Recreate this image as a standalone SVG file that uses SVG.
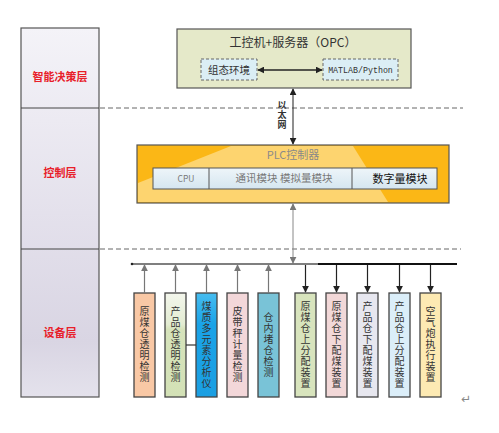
<svg xmlns="http://www.w3.org/2000/svg" width="499" height="433" viewBox="0 0 499 433">
<defs>
<linearGradient id="colg" x1="0" y1="0" x2="0" y2="1">
<stop offset="0" stop-color="#f4f3f8"/><stop offset="0.5" stop-color="#e4e1ec"/><stop offset="0.85" stop-color="#d9d5e3"/><stop offset="1" stop-color="#e4e2ec"/>
</linearGradient>
<linearGradient id="rowg" x1="0" y1="0" x2="0" y2="1">
<stop offset="0" stop-color="#eef5f9"/><stop offset="1" stop-color="#d5e6f0"/>
</linearGradient>
<linearGradient id="g2" x1="0" y1="0" x2="0" y2="1">
<stop offset="0" stop-color="#f3f6ec"/><stop offset="0.3" stop-color="#e3ecd2"/><stop offset="0.35" stop-color="#d6e3bb"/><stop offset="1" stop-color="#d3e1b6"/>
</linearGradient>
<linearGradient id="g3" x1="0" y1="0" x2="0" y2="1">
<stop offset="0" stop-color="#47bdf0"/><stop offset="0.3" stop-color="#1aa3e8"/><stop offset="1" stop-color="#1b9fe2"/>
</linearGradient>
<marker id="ab" viewBox="0 0 10 10" refX="9" refY="5" markerWidth="7" markerHeight="7" orient="auto-start-reverse" markerUnits="userSpaceOnUse">
<path d="M0,0 L10,5 L0,10 z" fill="#222"/>
</marker>
<marker id="ag" viewBox="0 0 10 10" refX="9" refY="5" markerWidth="7" markerHeight="7" orient="auto-start-reverse" markerUnits="userSpaceOnUse">
<path d="M0,0 L10,5 L0,10 z" fill="#777"/>
</marker>
</defs>
<style>
.lay{font-family:"Noto Sans CJK SC","Liberation Sans",sans-serif;font-size:11px;font-weight:bold;fill:#e8202a;text-anchor:middle}
.t{font-family:"Noto Sans CJK SC","Liberation Sans",sans-serif;fill:#333;text-anchor:middle}
.dev rect{stroke:#444;stroke-width:1.3}
.v{font-family:"Noto Sans CJK SC",sans-serif;font-size:10px;fill:#333;writing-mode:vertical-rl;text-anchor:middle;letter-spacing:1px}
.dash{stroke:#666;stroke-width:1;stroke-dasharray:5,3;fill:none}
.up{stroke:#777;stroke-width:1.2;fill:none;marker-end:url(#ag)}
.down{stroke:#222;stroke-width:1.2;fill:none;marker-end:url(#ab)}
.eth{font-family:"Noto Sans CJK SC",sans-serif;font-size:9px;font-weight:bold;fill:#333;text-anchor:middle;writing-mode:vertical-rl;letter-spacing:1px}
</style>

<g id="layers">
<rect x="21" y="28" width="78" height="369" fill="url(#colg)" stroke="#555" stroke-width="1.2"/>
<line x1="21" y1="108" x2="99" y2="108" stroke="#444" stroke-width="1"/>
<line x1="21" y1="249" x2="99" y2="249" stroke="#444" stroke-width="1"/>
<text class="lay" x="60" y="81">智能决策层</text>
<text class="lay" x="60" y="177">控制层</text>
<text class="lay" x="60" y="337">设备层</text>
</g>

<g id="separators">
<line class="dash" x1="100" y1="108" x2="463" y2="108"/>
<line class="dash" x1="100" y1="249" x2="461" y2="249"/>
</g>

<g id="ipc">
<rect x="177" y="29" width="234" height="59" fill="#e5e9c9" stroke="#555" stroke-width="1.2"/>
<text class="t" x="293" y="47" font-size="12">工控机+服务器（OPC）</text>
</g>
<g id="config-env">
<rect x="201" y="59" width="56" height="21" fill="#dbeef5" stroke="#666" stroke-width="1" stroke-dasharray="3,2"/>
<text class="t" x="229" y="74" font-size="10.5">组态环境</text>
</g>
<g id="matlab">
<rect x="323" y="59" width="75" height="21" fill="#dbeef5" stroke="#666" stroke-width="1" stroke-dasharray="3,2"/>
<text x="360.5" y="73" font-family="Liberation Mono,monospace" font-size="8.3" fill="#333" text-anchor="middle">MATLAB/Python</text>
</g>

<g id="plc">
<rect x="137" y="145" width="312" height="58" fill="#fbb716" stroke="#555" stroke-width="1.2"/>
<polygon points="231,146 353,146 388,202 138,202 138,183" fill="#fdd46f"/>
<text x="293" y="159" font-family="Noto Sans CJK SC,Liberation Sans,sans-serif" font-size="11" fill="#8a8a8a" text-anchor="middle">PLC控制器</text>
<rect x="153" y="168" width="284" height="21" fill="url(#rowg)" stroke="#555" stroke-width="1"/>
<line x1="209" y1="168" x2="209" y2="189" stroke="#555" stroke-width="1"/>
<line x1="352" y1="168" x2="352" y2="189" stroke="#555" stroke-width="1"/>
<text class="t" x="186" y="182" font-size="8.5" style="fill:#777">CPU</text>
<text class="t" x="284" y="182" font-size="10.5" style="fill:#777">通讯模块 模拟量模块</text>
<text class="t" x="400" y="182.5" font-size="11" style="fill:#111">数字量模块</text>
</g>

<g id="d1" class="dev"><rect x="134" y="293" width="21" height="104" fill="#f9c8a5"/><text class="v" x="144.5" y="345">原煤仓透明检测</text></g>
<g id="d2" class="dev"><rect x="165" y="293" width="21" height="104" fill="url(#g2)"/><text class="v" x="175.5" y="345">产品仓透明检测</text></g>
<g id="d3" class="dev"><rect x="196" y="293" width="21" height="104" fill="url(#g3)"/><text class="v" x="206.5" y="345">煤质多元素分析仪</text></g>
<g id="d4" class="dev"><rect x="227" y="293" width="21" height="104" fill="#f3d7d9"/><text class="v" x="237.5" y="345">皮带秤计量检测</text></g>
<g id="d5" class="dev"><rect x="258" y="293" width="21" height="104" fill="#79c3d7"/><text class="v" x="268.5" y="345">仓内堵仓检测</text></g>
<g id="d6" class="dev"><rect x="295" y="293" width="21" height="104" fill="#d8e4bd"/><text class="v" x="305.5" y="345">原煤仓上分配装置</text></g>
<g id="d7" class="dev"><rect x="326" y="293" width="21" height="104" fill="#f2d8d8"/><text class="v" x="336.5" y="345">原煤仓下配煤装置</text></g>
<g id="d8" class="dev"><rect x="357" y="293" width="21" height="104" fill="#e7e7ef"/><text class="v" x="367.5" y="345">产品仓下配煤装置</text></g>
<g id="d9" class="dev"><rect x="389" y="293" width="21" height="104" fill="#dbeef9"/><text class="v" x="399.5" y="345">产品仓上分配装置</text></g>
<g id="d10" class="dev"><rect x="420" y="293" width="21" height="104" fill="#fdeab3"/><text class="v" x="430.5" y="345">空气炮执行装置</text></g>

<g id="connectors">
<line x1="258" y1="70" x2="322" y2="70" stroke="#222" stroke-width="1.3" marker-start="url(#ab)" marker-end="url(#ab)"/>
<line x1="293" y1="89" x2="293" y2="144" stroke="#333" stroke-width="1.1" marker-start="url(#ab)" marker-end="url(#ab)"/>
<line x1="293" y1="204" x2="293" y2="263" stroke="#888" stroke-width="1" marker-start="url(#ag)" marker-end="url(#ag)"/>
<line x1="132" y1="264" x2="318" y2="264" stroke="#555" stroke-width="1.3"/>
<line x1="318" y1="264" x2="457" y2="264" stroke="#111" stroke-width="1.8"/>
<circle cx="132" cy="264" r="1.3" fill="#222"/>
<line class="up" x1="144.5" y1="293" x2="144.5" y2="265"/>
<line class="up" x1="175.5" y1="293" x2="175.5" y2="265"/>
<line class="up" x1="206.5" y1="293" x2="206.5" y2="265"/>
<line class="up" x1="237.5" y1="293" x2="237.5" y2="265"/>
<line class="up" x1="268.5" y1="293" x2="268.5" y2="265"/>
<line class="down" x1="305.5" y1="265" x2="305.5" y2="292"/>
<line class="down" x1="336.5" y1="265" x2="336.5" y2="292"/>
<line class="down" x1="367.5" y1="265" x2="367.5" y2="292"/>
<line class="down" x1="399.5" y1="265" x2="399.5" y2="292"/>
<line class="down" x1="430.5" y1="265" x2="430.5" y2="292"/>
<line x1="186" y1="345" x2="196" y2="345" stroke="#333" stroke-width="1.2"/>
</g>

<g id="ethernet-label">
<text class="eth" x="282" y="115">以太网</text>
</g>
<text x="466" y="403" font-family="DejaVu Sans,sans-serif" font-size="12" fill="#888" text-anchor="middle">↵</text>
</svg>
